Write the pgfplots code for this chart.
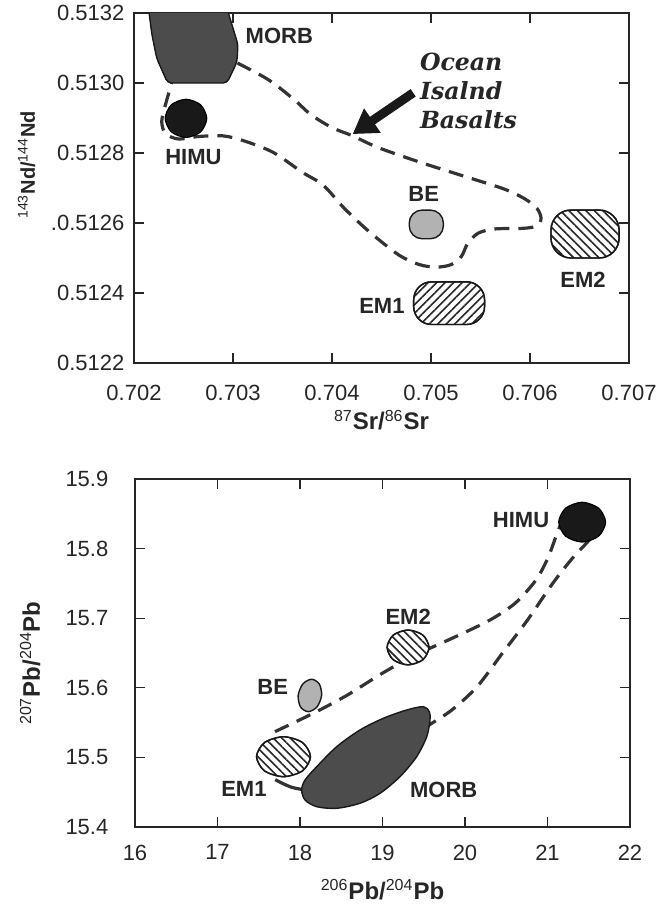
\documentclass[border=0pt]{standalone}
\usepackage{fontspec}
\setmainfont{Liberation Sans}
\newfontfamily\oibfont{DejaVu Serif}
\usepackage{pgfplots}
\pgfplotsset{compat=1.18}
\usetikzlibrary{patterns.meta,arrows.meta}
\tikzset{lab/.style={font=\bfseries\fontsize{11}{13}\selectfont, text=black!85}}

\begin{document}
\begin{tikzpicture}
\useasboundingbox (-67pt,6.5pt) rectangle (262.5pt,-446.5pt);
\pgfplotsset{
  myaxis/.style={
    scale only axis,
    width=247.5pt,
    axis line style={black!85, line width=0.7pt},
    major tick style={black!85, line width=0.6pt},
    major tick length=5pt,
    tick align=inside,
    scaled ticks=false,
    tick label style={black!85, font=\fontsize{11}{13}\selectfont},
    /pgf/number format/assume math mode=true,
    no markers,
  },
  dashenv/.style={smooth, black!80, line width=1.6pt, dash pattern=on 7.5pt off 4.5pt},
}
% ---------------- top panel ----------------
\begin{axis}[myaxis, height=175pt, anchor=north west, at={(0pt,0pt)},
  xmin=0.702, xmax=0.707, ymin=0.5122, ymax=0.5132,
  xtick={0.702,0.703,0.704,0.705,0.706,0.707},
  xticklabels={0.702,0.703,0.704,0.705,0.706,0.707},
  ytick={0.5122,0.5124,0.5126,0.5128,0.5130,0.5132},
  yticklabels={0.5122,0.5124,.0.5126,0.5128,0.5130,0.5132},
  xticklabel style={yshift=-7.3pt},
  yticklabel style={xshift=-1.3pt},
  xlabel={\textsuperscript{\mdseries 87}Sr/\textsuperscript{\mdseries 86}Sr},
  ylabel={\textsuperscript{\mdseries 143}Nd/\textsuperscript{\mdseries 144}Nd},
  xlabel style={at={(axis description cs:0.5,-0.163)}, anchor=center, font=\bfseries\fontsize{12}{14}\selectfont, text=black!85},
  ylabel style={at={(axis description cs:-0.217,0.566)}, anchor=center, font=\bfseries\fontsize{10}{12}\selectfont, text=black!85},
]
% envelope
\addplot[dashenv] coordinates {
(0.703045,0.513057) (0.70336,0.513009) (0.703616,0.512953) (0.703785,0.51291)
(0.703997,0.512873) (0.704208,0.512849) (0.704462,0.512816) (0.704885,0.512774)
(0.705308,0.512736) (0.70573,0.512698) (0.705942,0.51267) (0.70607,0.512642)
(0.706112,0.512613) (0.70607,0.512592) (0.705942,0.512585) (0.705646,0.512583)
(0.705477,0.512571) (0.705371,0.512542) (0.705308,0.512505) (0.705202,0.512481)
(0.705054,0.512474) (0.704885,0.512481) (0.704673,0.512509) (0.704377,0.512575)
(0.704124,0.512642) (0.703912,0.512708) (0.7037,0.512745) (0.703404,0.512802)
(0.703108,0.512835) (0.702897,0.512849) (0.702643,0.512847) (0.70245,0.51284)
(0.70232,0.512855) (0.70228,0.51289) (0.70232,0.51294) (0.70238,0.51300)};
% MORB
\addplot[draw=black!90, line width=0.7pt, fill=black!70, rounded corners=2pt] coordinates {
(0.70213,0.51325) (0.70290,0.51325) (0.70305,0.51311) (0.70304,0.51306)
(0.70294,0.51300) (0.70234,0.51300) (0.70223,0.51307) (0.70218,0.51314)} -- cycle;
% HIMU
\addplot[smooth cycle, draw=black, line width=0.6pt, fill=black!90] coordinates {
(0.702735,0.512899) (0.7026735,0.5129375) (0.702525,0.5129535) (0.7023765,0.5129375)
(0.702315,0.512899) (0.7023765,0.5128605) (0.702525,0.5128445) (0.7026735,0.5128605)};
% BE
\addplot[draw=black!90, line width=0.7pt, fill=black!30, rounded corners=6.5pt] coordinates {
(0.704780,0.512555) (0.705125,0.512555) (0.705125,0.512637) (0.704780,0.512637)} -- cycle;
% EM1
\addplot[draw=black!90, line width=0.7pt, preaction={fill=white}, pattern={Lines[angle=45,distance=3pt,line width=0.8pt]}, pattern color=black!85, rounded corners=9pt] coordinates {
(0.704825,0.512310) (0.705541,0.512310) (0.705541,0.512432) (0.704825,0.512432)} -- cycle;
% EM2
\addplot[draw=black!90, line width=0.7pt, preaction={fill=white}, pattern={Lines[angle=-45,distance=3pt,line width=0.8pt]}, pattern color=black!85, rounded corners=10pt] coordinates {
(0.706212,0.512500) (0.706900,0.512500) (0.706900,0.512637) (0.706212,0.512637)} -- cycle;
% arrow
\addplot[black!90, line width=4.5pt, -{Triangle[length=12pt,width=14pt]}] coordinates {
(0.70482,0.512972) (0.704208,0.512854)};
\node[lab] at (axis cs:0.703468,0.513134) {MORB};
\node[lab] at (axis cs:0.7026,0.512788) {HIMU};
\node[lab] at (axis cs:0.704927,0.512684) {BE};
\node[lab] at (axis cs:0.704504,0.512363) {EM1};
\node[lab] at (axis cs:0.706535,0.512439) {EM2};
\node[anchor=west, align=left, inner sep=0pt, text=black!85,
  font=\oibfont\bfseries\itshape\fontsize{11.8}{14.5}\selectfont]
  at (axis cs:0.704885,0.512976) {Ocean\\Isalnd\\Basalts};
\end{axis}
% ---------------- bottom panel ----------------
\begin{axis}[myaxis, height=174pt, anchor=north west, at={(0.5pt,-233pt)},
  xmin=16, xmax=22, ymin=15.4, ymax=15.9,
  xtick={16,17,18,19,20,21,22},
  xticklabels={16,17,18,19,20,21,22},
  ytick={15.4,15.5,15.6,15.7,15.8,15.9},
  yticklabels={15.4,15.5,15.6,15.7,15.8,15.9},
  xticklabel style={yshift=-5.3pt},
  yticklabel style={xshift=-9.8pt},
  xlabel={\textsuperscript{\mdseries 206}Pb/\textsuperscript{\mdseries 204}Pb},
  ylabel={\textsuperscript{\mdseries 207}Pb/\textsuperscript{\mdseries 204}Pb},
  xlabel style={at={(axis description cs:0.5,-0.18)}, anchor=center, font=\bfseries\fontsize{12}{14}\selectfont, text=black!85},
  ylabel style={at={(axis description cs:-0.212,0.471)}, anchor=center, font=\bfseries\fontsize{12}{14}\selectfont, text=black!85},
]
\addplot[dashenv] coordinates {
(17.697,15.537) (18.161,15.5634) (18.566,15.589) (18.93,15.616) (19.13,15.630)
(19.40,15.648) (19.616,15.659) (19.945,15.6767) (20.300,15.6972) (20.604,15.7211)
(20.858,15.7545) (21.010,15.7879) (21.137,15.8285) (21.2,15.84)};
\addplot[dashenv] coordinates {
(19.50,15.540) (19.54,15.5446) (19.844,15.5684) (20.148,15.6018) (20.452,15.6495)
(20.757,15.6972) (21.061,15.7497) (21.314,15.7879) (21.517,15.8141) (21.55,15.83)};
\addplot[smooth, black!80, line width=1.6pt] coordinates {
(17.70,15.468) (17.80,15.462) (17.90,15.457) (18.02,15.454)};
% MORB
\addplot[smooth cycle, draw=black!90, line width=0.7pt, fill=black!70] coordinates {
(19.495,15.5729) (19.568,15.5657) (19.576,15.5537) (19.536,15.5297) (19.414,15.5010)
(19.212,15.4723) (18.970,15.4484) (18.727,15.4341) (18.445,15.4269) (18.202,15.4292)
(18.061,15.4388) (18.020,15.4532) (18.061,15.4675) (18.202,15.4866) (18.445,15.5154)
(18.727,15.5394) (19.010,15.5562) (19.293,15.5681)};
% HIMU
\addplot[smooth cycle, draw=black, line width=0.6pt, fill=black!90] coordinates {
(21.704,15.838) (21.621,15.858) (21.42,15.8666) (21.219,15.858) (21.136,15.838)
(21.219,15.818) (21.42,15.8094) (21.621,15.818)};
% EM1
\addplot[smooth cycle, draw=black!90, line width=0.7pt, preaction={fill=white}, pattern={Lines[angle=-45,distance=3pt,line width=0.8pt]}, pattern color=black!85] coordinates {
(18.127,15.501) (18.031,15.5213) (17.80,15.5297) (17.569,15.5213) (17.473,15.501)
(17.569,15.4807) (17.80,15.4723) (18.031,15.4807)};
% BE
\addplot[smooth cycle, draw=black!90, line width=0.7pt, fill=black!30] coordinates {
(18.262,15.589) (18.234,15.6055) (18.14,15.6123) (18.034,15.6055) (17.978,15.589)
(18.006,15.5725) (18.10,15.5657) (18.206,15.5725)};
% EM2
\addplot[smooth cycle, draw=black!90, line width=0.7pt, preaction={fill=white}, pattern={Lines[angle=-45,distance=3pt,line width=0.8pt]}, pattern color=black!85] coordinates {
(19.564,15.658) (19.4896,15.6757) (19.31,15.683) (19.1304,15.6757) (19.056,15.658)
(19.1304,15.6403) (19.31,15.633) (19.4896,15.6403)};
\node[lab] at (axis cs:20.68,15.8404) {HIMU};
\node[lab] at (axis cs:19.311,15.702) {EM2};
\node[lab] at (axis cs:17.67,15.6018) {BE};
\node[lab] at (axis cs:17.32,15.455) {EM1};
\node[lab] at (axis cs:19.742,15.4539) {MORB};
\end{axis}
\end{tikzpicture}
\end{document}
